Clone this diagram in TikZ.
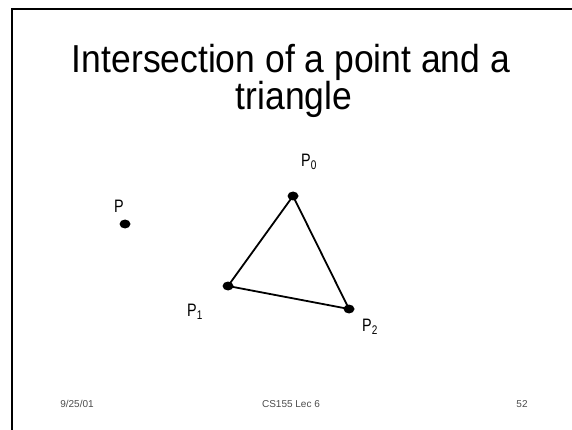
\documentclass[tikz,border=0pt]{standalone}
\usepackage{fontspec}
\setmainfont{Liberation Sans}
\newfontfamily\titlefont[FakeStretch=0.91]{Liberation Sans}
\newfontfamily\labelfont[FakeStretch=0.8]{Liberation Sans}
\usepackage{tikz}
\usetikzlibrary{positioning,shapes.geometric}
\newcommand{\psub}[1]{\raisebox{-3pt}{\fontsize{12.5}{13}\selectfont #1}}

\begin{document}
\begin{tikzpicture}[
  x=1pt,y=-1pt,
  dot/.style={ellipse,fill=black,inner sep=0pt,minimum width=11pt,minimum height=9pt},
  ptlabel/.style={inner sep=0pt,anchor=base west,font=\labelfont\fontsize{18}{20}\selectfont},
  titleline/.style={inner sep=0pt,anchor=base,font=\titlefont\fontsize{39}{44}\selectfont},
  footer/.style={inner sep=0pt,anchor=base,text=black!70,font=\fontsize{10}{12}\selectfont},
]
\useasboundingbox[fill=white] (0,0) rectangle (572,430);
\draw[line width=2pt] (12,430) -- (12,9.5) -- (572,9.5);

\node[titleline] (title1) at (291,73) {Intersection of a point and a};
\node[titleline] (title2) at (294,110) {triangle};

\node[dot] (p)  at (125,224) {};
\node[dot] (p0) at (293,196) {};
\node[dot] (p1) at (228,286) {};
\node[dot] (p2) at (349,309) {};
\draw[line width=1.8pt] (p0.center) -- (p1.center) -- (p2.center) -- cycle;

\node[ptlabel] (lp)  at (114,213) {P};
\node[ptlabel] (lp0) at (301,167) {P\psub{0}};
\node[ptlabel] (lp1) at (187,316.5) {P\psub{1}};
\node[ptlabel] (lp2) at (362,331.5) {P\psub{2}};

\node[footer] (date) at (77,407) {9/25/01};
\node[footer] (course) at (291,407) {CS155 Lec 6};
\node[footer] (page) at (522,407) {52};
\end{tikzpicture}
\end{document}
